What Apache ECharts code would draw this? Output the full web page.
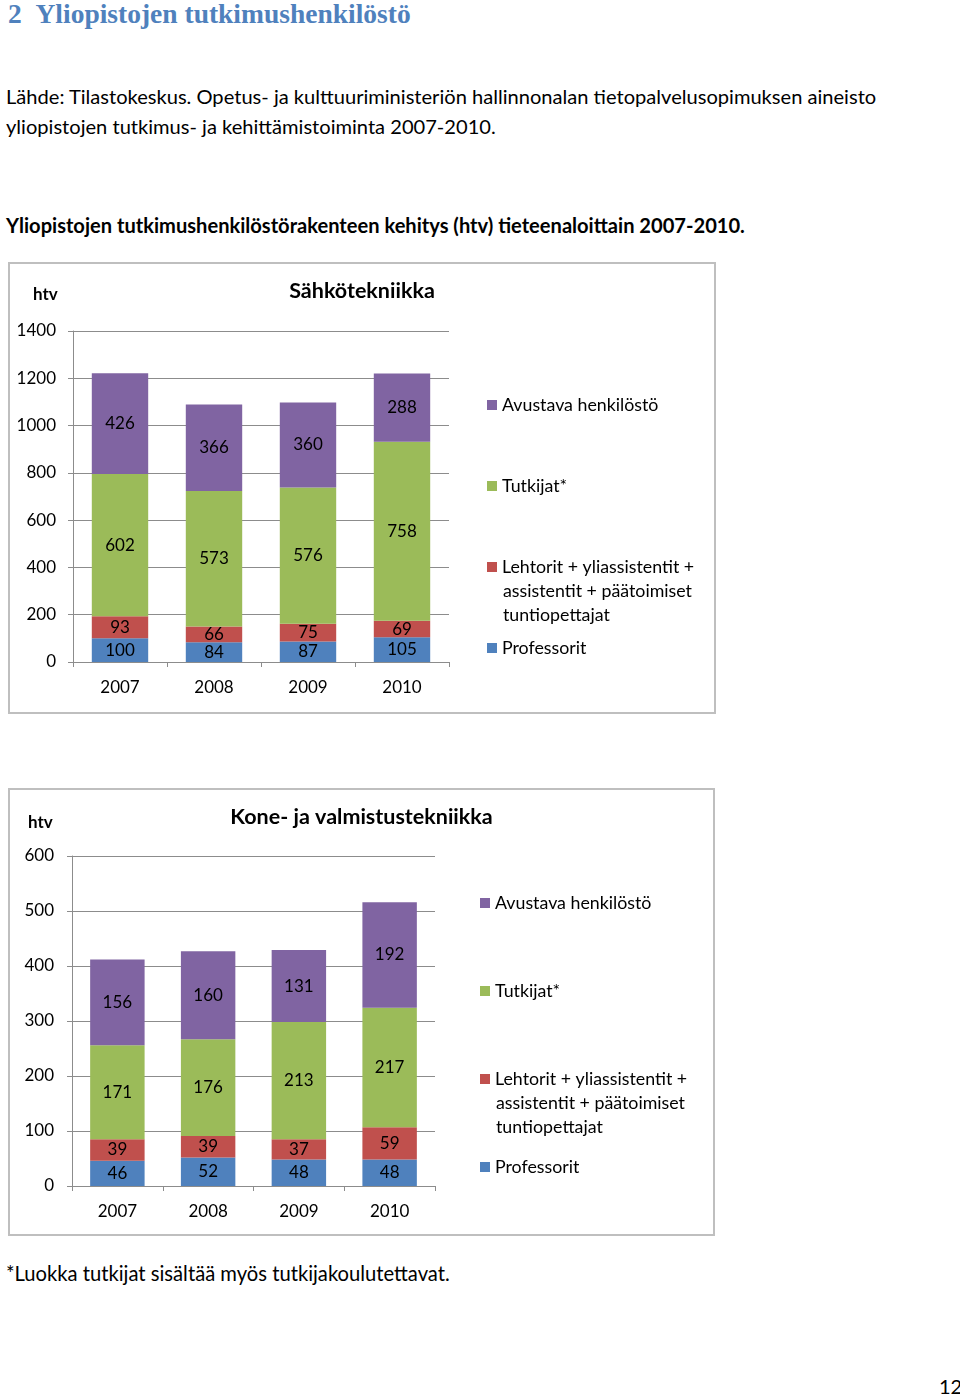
<!DOCTYPE html>
<html>
<head>
<meta charset="utf-8">
<script src="https://cdn.jsdelivr.net/npm/echarts@6/dist/echarts.min.js"></script>
<style>
  html, body { margin:0; padding:0; background:#fff; }
  body { width:960px; height:1395px; position:relative; overflow:hidden; font-family: Lato, "Open Sans", sans-serif; color:#000; }
  .t { position:absolute; white-space:nowrap; line-height:30px; }
  .box { position:absolute; border:2px solid #bfbfbf; box-sizing:border-box; }
  .chart { position:absolute; left:0; top:0; right:0; bottom:0; }
</style>
</head>
<body>
<div class="t" style="left:8px; top:-1px; font-family:'Liberation Serif','DejaVu Serif',serif; font-weight:bold; font-size:27.5px; color:#4f81bd;">2&nbsp;&nbsp;Yliopistojen tutkimushenkilöstö</div>
<div class="t" style="left:6px; top:81px; font-size:20.1px;">Lähde: Tilastokeskus. Opetus- ja kulttuuriministeriön hallinnonalan tietopalvelusopimuksen aineisto</div>
<div class="t" style="left:6px; top:111px; font-size:20.1px;">yliopistojen tutkimus- ja kehittämistoiminta 2007-2010.</div>
<div class="t" style="left:6px; top:210px; font-size:20.1px; font-weight:bold;">Yliopistojen tutkimushenkilöstörakenteen kehitys (htv) tieteenaloittain 2007-2010.</div>

<div class="box" style="left:8px; top:262px; width:708px; height:452px;"><div id="c1" class="chart"></div></div>
<div class="box" style="left:8px; top:788px; width:707px; height:448px;"><div id="c2" class="chart"></div></div>

<div class="t" style="left:6px; top:1258px; font-size:20.2px;">*Luokka tutkijat sisältää myös tutkijakoulutettavat.</div>
<div class="t" style="left:939px; top:1371px; font-size:20px;">12</div>

<script>
const years = ['2007', '2008', '2009', '2010'];
const seriesNames = ['Professorit', 'Lehtorit + yliassistentit + assistentit + päätoimiset tuntiopettajat', 'Tutkijat*', 'Avustava henkilöstö'];
const seriesColors = ['#4f81bd', '#c0504d', '#9bbb59', '#8064a2'];

const sahkoProfessorit = [100, 84, 87, 105];
const sahkoLehtorit = [93, 66, 75, 69];
const sahkoTutkijat = [602, 573, 576, 758];
const sahkoAvustava = [426, 366, 360, 288];

const koneProfessorit = [46, 52, 48, 48];
const koneLehtorit = [39, 39, 37, 59];
const koneTutkijat = [171, 176, 213, 217];
const koneAvustava = [156, 160, 131, 192];

const sahkoAxis = { max: 1400, interval: 200 };
const koneAxis = { max: 600, interval: 100 };

const FONT = 'Lato';

function makeOption(cfg) {
  const dataSets = cfg.data;
  return {
    animation: false,
    textStyle: { fontFamily: FONT },
    title: {
      text: cfg.title, left: 'center', top: 16, padding: 0,
      textStyle: { fontFamily: FONT, fontSize: 21.5, fontWeight: 'bold', color: '#000' }
    },
    grid: { left: cfg.grid.left, top: cfg.grid.top, width: cfg.grid.width, height: cfg.grid.height },
    legend: {
      orient: 'vertical',
      left: cfg.legend.left, top: cfg.legend.top, padding: 0,
      itemWidth: 10, itemHeight: 10, itemGap: cfg.legend.gap,
      icon: 'rect',
      selectedMode: false,
      data: [seriesNames[3], seriesNames[2], seriesNames[1], seriesNames[0]],
      formatter: function (n) { return n === seriesNames[1] ? 'Lehtorit + yliassistentit +' : n; },
      textStyle: { fontFamily: FONT, fontSize: 17.8, color: '#000', lineHeight: 20 }
    },
    graphic: [
      { type: 'text', x: cfg.htv.x, y: cfg.htv.y,
        style: { text: 'htv', font: 'bold 17px ' + FONT, fill: '#000', textVerticalAlign: 'middle', verticalAlign: 'middle' } },
      { type: 'text', x: cfg.legend.textX, y: cfg.legend.line2,
        style: { text: 'assistentit + päätoimiset', font: '17.8px ' + FONT, fill: '#000', textVerticalAlign: 'middle', verticalAlign: 'middle' } },
      { type: 'text', x: cfg.legend.textX, y: cfg.legend.line2 + 24,
        style: { text: 'tuntiopettajat', font: '17.8px ' + FONT, fill: '#000', textVerticalAlign: 'middle', verticalAlign: 'middle' } }
    ],
    xAxis: {
      type: 'category', data: years,
      axisLine: { lineStyle: { color: '#8c8c8c', width: 1 } },
      axisTick: { show: true, length: 5, lineStyle: { color: '#8c8c8c' } },
      axisLabel: { fontFamily: FONT, fontSize: 17, color: '#000', margin: 17 }
    },
    yAxis: {
      type: 'value', min: 0, max: cfg.axis.max, interval: cfg.axis.interval,
      axisLine: { show: true, lineStyle: { color: '#8c8c8c', width: 1 } },
      axisTick: { show: true, length: 5, lineStyle: { color: '#8c8c8c' } },
      splitLine: { show: true, lineStyle: { color: '#8c8c8c', width: 1 } },
      axisLabel: { fontFamily: FONT, fontSize: 17, color: '#000', margin: cfg.labelMargin,
        formatter: function (v) { return String(v); } }
    },
    series: dataSets.map(function (d, i) {
      return {
        name: seriesNames[i], type: 'bar', stack: 'total', data: d,
        barWidth: '60%',
        itemStyle: { color: seriesColors[i] },
        label: { show: true, position: 'inside', fontFamily: FONT, fontSize: 17, color: '#000' }
      };
    })
  };
}

const c1 = echarts.init(document.getElementById('c1'));
c1.setOption(makeOption({
  title: 'Sähkötekniikka',
  data: [sahkoProfessorit, sahkoLehtorit, sahkoTutkijat, sahkoAvustava],
  axis: sahkoAxis,
  grid: { left: 63, top: 67, width: 376, height: 331 },
  labelMargin: 17,
  htv: { x: 23, y: 31 },
  legend: { left: 477, top: 131, gap: 61, textX: 493, line2: 327 }
}));

const c2 = echarts.init(document.getElementById('c2'));
c2.setOption(makeOption({
  title: 'Kone- ja valmistustekniikka',
  data: [koneProfessorit, koneLehtorit, koneTutkijat, koneAvustava],
  axis: koneAxis,
  grid: { left: 62, top: 66, width: 363, height: 330 },
  labelMargin: 18,
  htv: { x: 18, y: 33 },
  legend: { left: 470, top: 103, gap: 68, textX: 486, line2: 313 }
}));
</script>
</body>
</html>
